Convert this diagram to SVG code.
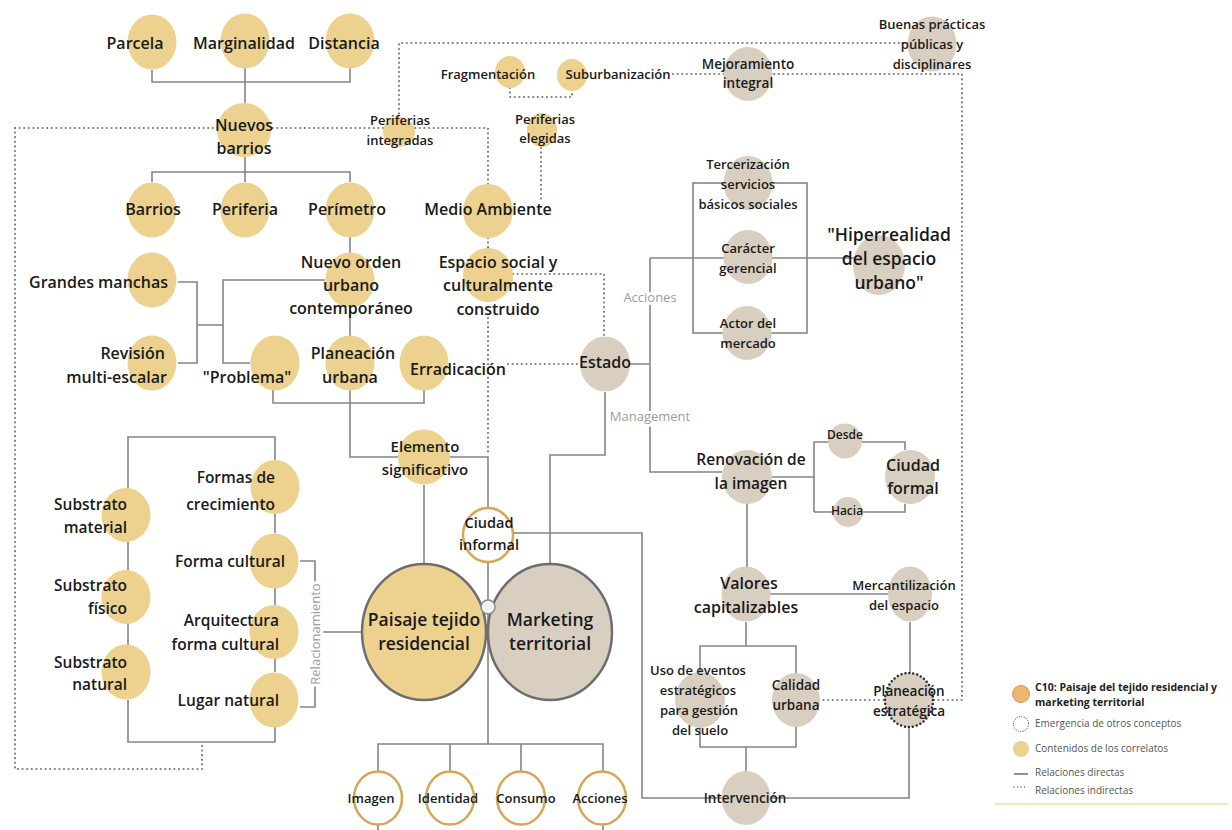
<svg xmlns="http://www.w3.org/2000/svg" width="1232" height="830" viewBox="0 0 1232 830">
<style>
text{font-family:"Open Sans","Liberation Sans",sans-serif;font-weight:600;fill:#1a1a1a;text-anchor:middle}
.e{text-anchor:end}
.s12{font-size:12px}.s13{font-size:13px}.s135{font-size:13.5px}.s145{font-size:14.5px}.s15{font-size:15px}.s155{font-size:15.5px}.s16{font-size:16px}.s175{font-size:17.5px}
.y{fill:#ecd28e}
.g{fill:#d9cfc1}
.o{fill:#fff;stroke:#d6a655;stroke-width:2.5}
.big{stroke:#6e6e6e;stroke-width:2.5}
.ln{fill:none;stroke:#858585;stroke-width:1.6}
.dt{fill:none;stroke:#7c7c7c;stroke-width:2.2;stroke-dasharray:0 4.6;stroke-linecap:round}
.lbl{font-weight:400;fill:#9c9c9c;font-size:13px;paint-order:stroke;stroke:#fff;stroke-width:6px}
.lg{font-size:10px;font-weight:400;fill:#555;text-anchor:start}
.lgb{font-size:10.5px;font-weight:700;fill:#222;text-anchor:start}
</style>
<rect width="1232" height="830" fill="#fff"/>

<g id="connectors">
  <path class="ln" d="M152 70V82H350V68M245 68V103"/>
  <path class="ln" d="M245 157V172M152 182V172H350V182M245 172V182"/>
  <path class="ln" d="M350 237V253"/>
  <path class="ln" d="M178 282H197V363H178M197 325H223M325 280H223V363H250"/>
  <path class="ln" d="M350 307V337"/>
  <path class="ln" d="M273 390V403H424V390"/>
  <path class="ln" d="M350 390V457H400M450 457H488V507"/>
  <path class="ln" d="M424 485V563"/>
  <path class="ln" d="M315 632H362M300 561H315V707H300"/>
  <path class="ln" d="M128 488V437H275V460M128 542V570M128 623V645M128 700V742H275V727M275 513V533M275 588V605M275 658V672"/>
  <path class="ln" d="M488 562V600M488 614V744M378 772V744H603V772M450 744V772M521 744V772M378 825V830M603 825V830"/>
  <path class="ln" d="M513 533H642V798H722"/>
  <path class="ln" d="M605 392V455H550V563"/>
  <path class="ln" d="M630 364H650M650 258V472H722M650 258H855"/>
  <rect class="ln" x="693" y="183" width="114" height="150"/>
  <path class="ln" d="M772 477H814M814 442V512M814 442H905V450M814 512H905V504"/>
  <path class="ln" d="M747 503V567"/>
  <path class="ln" d="M770 594H888"/>
  <path class="ln" d="M910 622V673"/>
  <path class="ln" d="M909 727V798H770"/>
  <path class="ln" d="M746 622V646M700 646H796V747H700ZM746 747V772"/>
  <path class="dt" d="M399 118V43H932"/>
  <path class="dt" d="M15 128H488V184"/>
  <path class="dt" d="M15 128V769H202V746"/>
  <path class="dt" d="M510 88V97H572V92M541 148V200"/>
  <path class="dt" d="M673 74H962V700H820"/>
  <path class="dt" d="M488 238V248"/>
  <path class="dt" d="M513 274H604V337"/>
  <path class="dt" d="M508 364H580"/>
  <path class="dt" d="M488 318V455"/>
  <text class="lbl" x="650" y="302">Acciones</text>
  <text class="lbl" x="650" y="421">Management</text>
  <text class="lbl" transform="translate(319.5 634) rotate(-90)">Relacionamiento</text>
</g>

<g id="parcela"><ellipse class="y" cx="152" cy="42" rx="24.5" ry="27.5"/><text class="s16" x="135" y="49">Parcela</text></g>
<g id="marginalidad"><ellipse class="y" cx="245" cy="41" rx="24.5" ry="27.5"/><text class="s16" x="244" y="49">Marginalidad</text></g>
<g id="distancia"><ellipse class="y" cx="350" cy="41" rx="24.5" ry="27.5"/><text class="s16" x="344" y="49">Distancia</text></g>
<g id="nuevos-barrios"><ellipse class="y" cx="244" cy="130" rx="27" ry="27"/><text class="s16" x="244" y="131">Nuevos</text><text class="s16" x="244" y="154">barrios</text></g>
<g id="barrios"><ellipse class="y" cx="152" cy="210" rx="24.5" ry="27.5"/><text class="s16" x="153" y="215">Barrios</text></g>
<g id="periferia"><ellipse class="y" cx="245" cy="210" rx="24.5" ry="27.5"/><text class="s16" x="245" y="215">Periferia</text></g>
<g id="perimetro"><ellipse class="y" cx="350" cy="210" rx="24.5" ry="27.5"/><text class="s16" x="347" y="215">Perímetro</text></g>
<g id="nuevo-orden"><ellipse class="y" cx="350" cy="280" rx="24.5" ry="27.5"/><text class="s16" x="351" y="268">Nuevo orden</text><text class="s16" x="351" y="291">urbano</text><text class="s16" x="351" y="314">contemporáneo</text></g>
<g id="grandes-manchas"><ellipse class="y" cx="152" cy="280" rx="24.5" ry="27.5"/><text class="s16 e" x="168" y="288">Grandes manchas</text></g>
<g id="revision"><ellipse class="y" cx="152" cy="363" rx="24.5" ry="27.5"/><text class="s16 e" x="165" y="359">Revisión</text><text class="s16 e" x="167" y="383">multi-escalar</text></g>
<g id="problema"><ellipse class="y" cx="275" cy="363" rx="24.5" ry="27.5"/><text class="s16" x="247" y="383">"Problema"</text></g>
<g id="planeacion-urbana"><ellipse class="y" cx="350" cy="363" rx="24.5" ry="27.5"/><text class="s16" x="353" y="359">Planeación</text><text class="s16" x="350" y="383">urbana</text></g>
<g id="erradicacion"><ellipse class="y" cx="424" cy="363" rx="24.5" ry="27.5"/><text class="s16" x="458" y="375">Erradicación</text></g>
<g id="medio-ambiente"><ellipse class="y" cx="488" cy="211" rx="25" ry="27"/><text class="s16" x="488" y="215">Medio Ambiente</text></g>
<g id="espacio-social"><ellipse class="y" cx="488" cy="275" rx="25" ry="27"/><text class="s16" x="498" y="268">Espacio social y</text><text class="s16" x="498" y="291">culturalmente</text><text class="s16" x="498" y="315">construido</text></g>
<g id="periferias-integradas"><ellipse class="y" cx="399" cy="132" rx="16" ry="15"/><text class="s13" x="400" y="125">Periferias</text><text class="s13" x="400" y="145">integradas</text></g>
<g id="fragmentacion"><ellipse class="y" cx="510" cy="72" rx="15" ry="16"/><text class="s13" x="488" y="79">Fragmentación</text></g>
<g id="suburbanizacion"><ellipse class="y" cx="572" cy="75" rx="15" ry="16"/><text class="s13" x="618" y="79">Suburbanización</text></g>
<g id="periferias-elegidas"><ellipse class="y" cx="542" cy="130" rx="15" ry="17"/><text class="s13" x="545" y="124">Periferias</text><text class="s13" x="545" y="143">elegidas</text></g>
<g id="mejoramiento"><ellipse class="g" cx="748" cy="74" rx="24.5" ry="27"/><text class="s135" x="748" y="69">Mejoramiento</text><text class="s135" x="748" y="88">integral</text></g>
<g id="buenas-practicas"><ellipse class="g" cx="932" cy="44" rx="24.5" ry="27.5"/><text class="s13" x="932" y="29">Buenas prácticas</text><text class="s13" x="932" y="49">públicas y</text><text class="s13" x="932" y="69">disciplinares</text></g>
<g id="tercerizacion"><ellipse class="g" cx="748" cy="183" rx="24.5" ry="27"/><text class="s13" x="748" y="169">Tercerización</text><text class="s13" x="748" y="189">servicios</text><text class="s13" x="748" y="209">básicos sociales</text></g>
<g id="caracter-gerencial"><ellipse class="g" cx="748" cy="257" rx="24.5" ry="27"/><text class="s13" x="748" y="253">Carácter</text><text class="s13" x="748" y="273">gerencial</text></g>
<g id="actor-mercado"><ellipse class="g" cx="747" cy="333" rx="24.5" ry="27"/><text class="s13" x="748" y="328">Actor del</text><text class="s13" x="748" y="348">mercado</text></g>
<g id="hiperrealidad"><ellipse class="g" cx="879" cy="265" rx="26" ry="30"/><text class="s175" x="889" y="241">"Hiperrealidad</text><text class="s175" x="889" y="265">del espacio</text><text class="s175" x="889" y="289">urbano"</text></g>
<g id="estado"><ellipse class="g" cx="605" cy="364" rx="25" ry="27.5"/><text class="s16" x="605" y="368">Estado</text></g>
<g id="renovacion"><ellipse class="g" cx="747" cy="477" rx="25" ry="27"/><text class="s155" x="751" y="465">Renovación de</text><text class="s155" x="751" y="489">la imagen</text></g>
<g id="desde"><ellipse class="g" cx="845" cy="441" rx="17" ry="17.5"/><text class="s12" x="845" y="439">Desde</text></g>
<g id="hacia"><ellipse class="g" cx="848" cy="512" rx="15" ry="15"/><text class="s12" x="847" y="515">Hacia</text></g>
<g id="ciudad-formal"><ellipse class="g" cx="910" cy="477" rx="25" ry="27"/><text class="s16" x="913" y="471">Ciudad</text><text class="s16" x="913" y="494">formal</text></g>
<g id="valores"><ellipse class="g" cx="746" cy="594" rx="24.5" ry="27.5"/><text class="s16" x="749" y="589">Valores</text><text class="s16" x="746" y="613">capitalizables</text></g>
<g id="mercantilizacion"><ellipse class="g" cx="910" cy="594" rx="22" ry="27.5"/><text class="s13" x="904" y="590">Mercantilización</text><text class="s13" x="904" y="610">del espacio</text></g>
<g id="planeacion-estrategica"><ellipse class="g" cx="909" cy="700" rx="24" ry="27" stroke="#2a2a2a" stroke-width="2.5" stroke-dasharray="0 4" stroke-linecap="round"/><text class="s135" x="909" y="696">Planeación</text><text class="s135" x="909" y="716">estratégica</text></g>
<g id="calidad-urbana"><ellipse class="g" cx="796" cy="700" rx="24" ry="27"/><text class="s135" x="796" y="690">Calidad</text><text class="s135" x="796" y="710">urbana</text></g>
<g id="uso-eventos"><ellipse class="g" cx="700" cy="700" rx="25" ry="28"/><text class="s13" x="698" y="675">Uso de eventos</text><text class="s13" x="698" y="695">estratégicos</text><text class="s13" x="699" y="715">para gestión</text><text class="s13" x="700" y="735">del suelo</text></g>
<g id="intervencion"><ellipse class="g" cx="746" cy="798" rx="24.5" ry="27"/><text class="s135" x="745" y="803">Intervención</text></g>
<g id="elemento"><ellipse class="y" cx="424" cy="457" rx="26" ry="27.5"/><text class="s15" x="425" y="452">Elemento</text><text class="s15" x="425" y="475">significativo</text></g>
<g id="ciudad-informal"><ellipse class="o" cx="488" cy="535" rx="25" ry="27"/><text class="s145" x="489" y="528">Ciudad</text><text class="s145" x="489" y="550">informal</text></g>
<g id="paisaje"><ellipse class="y big" cx="424" cy="632" rx="62" ry="68"/><text class="s175" x="424" y="626">Paisaje tejido</text><text class="s175" x="424" y="650">residencial</text></g>
<g id="marketing"><ellipse class="g big" cx="550" cy="632" rx="62" ry="68"/><text class="s175" x="550" y="626">Marketing</text><text class="s175" x="550" y="650">territorial</text></g>
<g id="union"><circle cx="488" cy="607" r="7" fill="#f2f2f2" stroke="#8a8a8a" stroke-width="1.5"/></g>
<g id="imagen"><ellipse class="o" cx="378" cy="798" rx="24" ry="26.5"/><text class="s13" x="371" y="803">Imagen</text></g>
<g id="identidad"><ellipse class="o" cx="450" cy="798" rx="24" ry="26.5"/><text class="s13" x="448" y="803">Identidad</text></g>
<g id="consumo"><ellipse class="o" cx="521" cy="798" rx="24" ry="26.5"/><text class="s13" x="526" y="803">Consumo</text></g>
<g id="acciones"><ellipse class="o" cx="602" cy="798" rx="24" ry="26.5"/><text class="s13" x="600" y="803">Acciones</text></g>
<g id="formas-crecimiento"><ellipse class="y" cx="275" cy="487" rx="24.5" ry="27"/><text class="s155 e" x="275" y="483">Formas de</text><text class="s155 e" x="275" y="510">crecimiento</text></g>
<g id="substrato-material"><ellipse class="y" cx="126" cy="515" rx="24.5" ry="27"/><text class="s155 e" x="127" y="510">Substrato</text><text class="s155 e" x="127" y="533">material</text></g>
<g id="substrato-fisico"><ellipse class="y" cx="126" cy="597" rx="24.5" ry="27"/><text class="s155 e" x="127" y="591">Substrato</text><text class="s155 e" x="127" y="614">físico</text></g>
<g id="substrato-natural"><ellipse class="y" cx="126" cy="672" rx="24.5" ry="27.5"/><text class="s155 e" x="127" y="668">Substrato</text><text class="s155 e" x="127" y="690">natural</text></g>
<g id="forma-cultural"><ellipse class="y" cx="274" cy="561" rx="24.5" ry="27.5"/><text class="s155 e" x="285" y="567">Forma cultural</text></g>
<g id="arquitectura"><ellipse class="y" cx="274" cy="632" rx="24.5" ry="27"/><text class="s155 e" x="279" y="626">Arquitectura</text><text class="s155 e" x="279" y="650">forma cultural</text></g>
<g id="lugar-natural"><ellipse class="y" cx="274" cy="700" rx="24.5" ry="27.5"/><text class="s155 e" x="279" y="706">Lugar natural</text></g>

<g id="legend">
  <circle cx="1021" cy="694" r="8.5" fill="#efb46d" stroke="#c9894a" stroke-width="0.8"/>
  <text class="lgb" x="1035" y="691">C10: Paisaje del tejido residencial y</text>
  <text class="lgb" x="1035" y="706">marketing territorial</text>
  <circle cx="1021" cy="724" r="7.5" fill="none" stroke="#555" stroke-width="1.2" stroke-dasharray="0 2.4" stroke-linecap="round"/>
  <text class="lg" x="1035" y="727">Emergencia de otros conceptos</text>
  <circle cx="1021" cy="749" r="8" fill="#ecd28e"/>
  <text class="lg" x="1035" y="752">Contenidos de los correlatos</text>
  <path d="M1014 774H1028" stroke="#555" stroke-width="1.3"/>
  <text class="lg" x="1035" y="776">Relaciones directas</text>
  <path d="M1014 787H1028" stroke="#555" stroke-width="1.3" stroke-dasharray="0 3.5" stroke-linecap="round"/>
  <text class="lg" x="1035" y="794">Relaciones indirectas</text>
  <path d="M995 804H1228" stroke="#f1dca4" stroke-width="1.5"/>
</g>
</svg>
